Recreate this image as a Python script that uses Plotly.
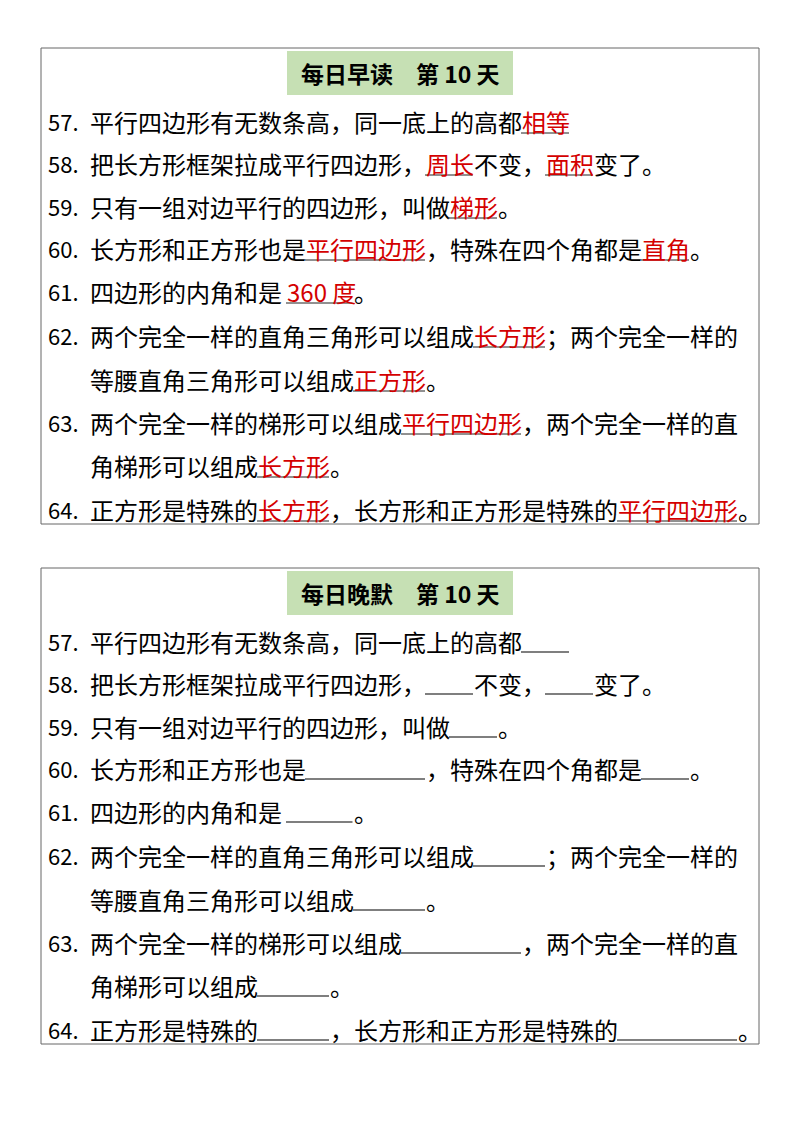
import re
import plotly.graph_objects as go

# text rows: [number, text]; answers in brackets
titles = ["每日早读　第 10 天", "每日晚默　第 10 天"]
numbers = ["57.", "58.", "59.", "60.", "61.", "62.", "", "63.", "", "64."]
rows = [
    "平行四边形有无数条高，同一底上的高都[相等]",
    "把长方形框架拉成平行四边形，[周长]不变，[面积]变了。",
    "只有一组对边平行的四边形，叫做[梯形]。",
    "长方形和正方形也是[平行四边形]，特殊在四个角都是[直角]。",
    "四边形的内角和是 [360 度]。",
    "两个完全一样的直角三角形可以组成[长方形]；两个完全一样的",
    "等腰直角三角形可以组成[正方形]。",
    "两个完全一样的梯形可以组成[平行四边形]，两个完全一样的直",
    "角梯形可以组成[长方形]。",
    "正方形是特殊的[长方形]，长方形和正方形是特殊的[平行四边形]。",
]
row_y = [121, 163, 206, 248, 291, 335, 379, 422, 465, 509]
box_offset = 520

FS = 24
FONT = "Noto Sans CJK SC"


def text_width(s):
    w = 0
    for ch in s:
        if ch == " ":
            w += 5
        elif ord(ch) < 128:
            w += 12.5
        else:
            w += FS
    return w


fig = go.Figure()
shapes = []
annotations = []

for b in range(2):
    off = b * box_offset
    shapes.append(dict(type="rect", x0=41, x1=759, y0=48 + off, y1=524 + off,
                       line=dict(color="#666666", width=1), fillcolor="rgba(0,0,0,0)"))
    shapes.append(dict(type="rect", x0=287, x1=513, y0=51 + off, y1=95 + off,
                       line=dict(width=0), fillcolor="#c6e0b4"))
    annotations.append(dict(x=400, y=73 + off, text="<b>" + titles[b] + "</b>",
                            showarrow=False, xanchor="center", yanchor="middle",
                            font=dict(family=FONT, size=23, color="black")))
    for num, row, y in zip(numbers, rows, row_y):
        y = y + off
        if num:
            annotations.append(dict(x=46, y=y, text=num, showarrow=False,
                                    xanchor="left", yanchor="middle",
                                    font=dict(family=FONT, size=22, color="black")))
        x = 89
        for part in re.split(r"(\[[^\]]+\])", row):
            if not part:
                continue
            if part.startswith("["):
                ans = part[1:-1]
                w = text_width(ans)
                if b == 0:
                    annotations.append(dict(x=x - 1, y=y, text=ans, showarrow=False,
                                            xanchor="left", yanchor="middle",
                                            font=dict(family=FONT, size=FS, color="#d40000")))
                    shapes.append(dict(type="line", x0=x, x1=x + w, y0=y + 12, y1=y + 12,
                                       line=dict(color="#222222", width=1)))
                else:
                    shapes.append(dict(type="line", x0=x, x1=x + w, y0=y + 11, y1=y + 11,
                                       line=dict(color="black", width=1.2)))
                x += w
            else:
                annotations.append(dict(x=x - 1, y=y, text=part, showarrow=False,
                                        xanchor="left", yanchor="middle",
                                        font=dict(family=FONT, size=FS, color="black")))
                x += text_width(part)

# page body adds ~8px offset, compensate in the axis ranges
fig.update_layout(
    width=800, height=1132,
    margin=dict(l=0, r=0, t=0, b=0),
    paper_bgcolor="white", plot_bgcolor="white",
    xaxis=dict(range=[8, 808], visible=False, fixedrange=True),
    yaxis=dict(range=[1140, 8], visible=False, fixedrange=True),
    shapes=shapes, annotations=annotations, showlegend=False,
)
fig.write_html("out.html")
